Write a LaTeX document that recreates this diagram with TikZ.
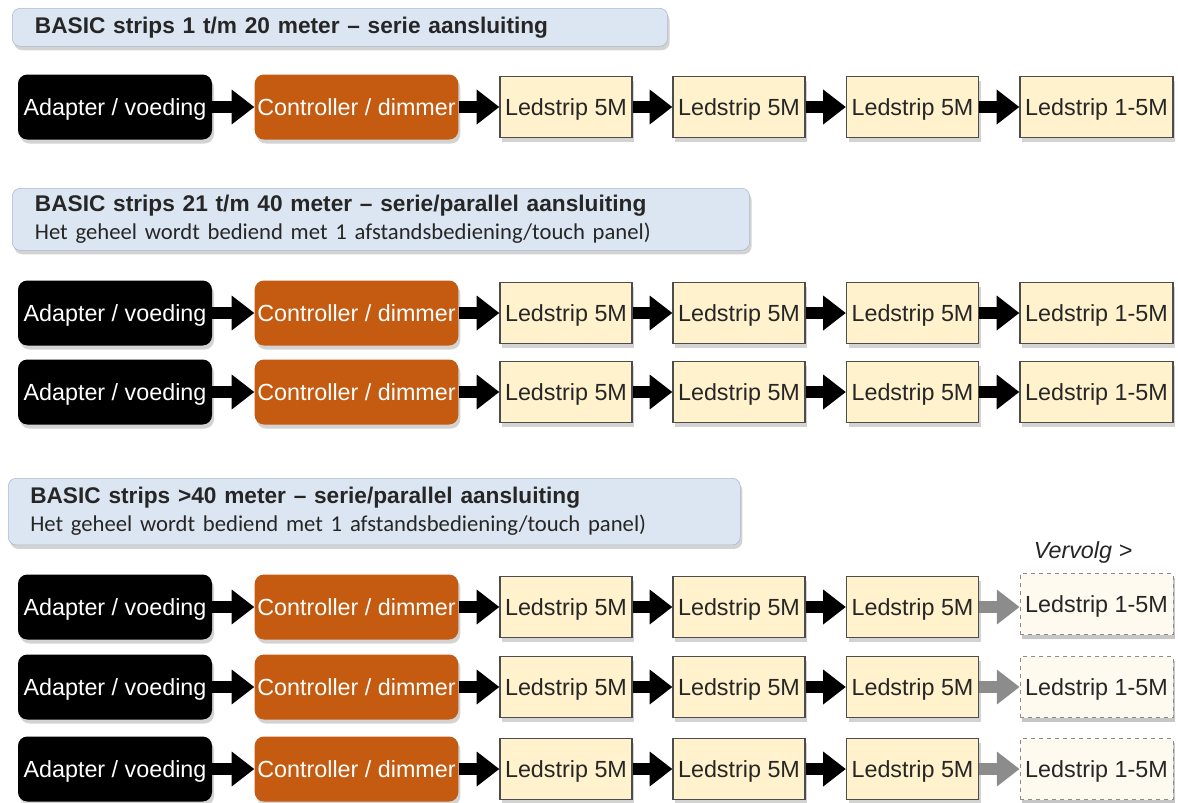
\documentclass[tikz,border=0pt]{standalone}
\usepackage{fontspec}
\setmainfont{Liberation Sans}
\newfontfamily\notefont[WordSpace=0.75]{Carlito}
\usetikzlibrary{arrows.meta,shadows}
\definecolor{ctrlorange}{HTML}{C55A11}
\definecolor{stripfill}{HTML}{FFF2CC}
\definecolor{fadefill}{HTML}{FFFAF0}
\definecolor{titlefill}{HTML}{DCE6F2}
\definecolor{titleline}{HTML}{A9B8CB}
\definecolor{inktext}{HTML}{262626}

\begin{document}
\begin{tikzpicture}[x=0.75pt,y=-0.75pt,
  every node/.style={font=\fontsize{17.5}{21}\selectfont},
  shade/.style={drop shadow={shadow xshift=1.5pt,shadow yshift=-3pt,opacity=0.35}},
  titlebox/.style={draw=titleline, fill=titlefill, rounded corners=6pt, anchor=north west,
    align=left, inner xsep=17pt, inner ysep=0pt, text=inktext, shade},
  boxtext/.style={inner xsep=2pt, text height=15.6pt, text depth=3.4pt},
  adapter/.style={fill=black, text=white, rounded corners=7pt, boxtext,
    minimum width=145.5pt, minimum height=48.75pt, shade},
  ctrl/.style={fill=ctrlorange, text=white, rounded corners=7pt, boxtext,
    minimum width=152.25pt, minimum height=48.75pt, shade},
  strip/.style={draw=black!70, line width=0.9pt, fill=stripfill, text=inktext, boxtext,
    minimum width=99pt, minimum height=45.75pt, shade},
  laststrip/.style={strip, minimum width=114.75pt},
  fadestrip/.style={laststrip, draw=black!45, dashed, line width=0.6pt, fill=fadefill, text=inktext,
    drop shadow={shadow xshift=1.5pt,shadow yshift=-3pt,opacity=0.15}},
  conn/.style={line width=9pt, -{Triangle[length=17pt,width=25pt]}},
  fadeconn/.style={conn, draw=black!45, color=black!45}
]
\useasboundingbox (0,0) rectangle (1178,803);
\def\xad{115}
\def\xco{356.5}
\def\xla{566}
\def\xlb{739}
\def\xlc{912.5}
\def\xld{1096.5}

% serie
\node[titlebox, text width=457.5pt, minimum height=28.5pt] (title1) at (12,8)
  {\fontsize{17}{21}\selectfont\bfseries BASIC strips 1 t/m 20 meter -- serie aansluiting};

\node[adapter] (ad1) at (\xad,107) {Adapter / voeding};
\node[ctrl] (co1) at (\xco,107) {Controller / dimmer};
\node[strip] (la1) at (\xla,107) {Ledstrip 5M};
\node[strip] (lb1) at (\xlb,107) {Ledstrip 5M};
\node[strip] (lc1) at (\xlc,107) {Ledstrip 5M};
\node[laststrip] (ld1) at (\xld,107) {Ledstrip 1-5M};
\draw[conn] (ad1) -- (co1);
\draw[conn] (co1) -- (la1);
\draw[conn] (la1) -- (lb1);
\draw[conn] (lb1) -- (lc1);
\draw[conn] (lc1) -- (ld1);

% serie/parallel, 2 rows
\node[titlebox, text width=519pt, minimum height=46.5pt] (title2) at (12,188)
  {\fontsize{17}{21}\selectfont\bfseries BASIC strips 21 t/m 40 meter -- serie/parallel aansluiting\\
   \notefont\mdseries\fontsize{17}{21}\selectfont Het geheel wordt bediend met 1 afstandsbediening/touch panel)};

\node[adapter] (ad2) at (\xad,313) {Adapter / voeding};
\node[ctrl] (co2) at (\xco,313) {Controller / dimmer};
\node[strip] (la2) at (\xla,313) {Ledstrip 5M};
\node[strip] (lb2) at (\xlb,313) {Ledstrip 5M};
\node[strip] (lc2) at (\xlc,313) {Ledstrip 5M};
\node[laststrip] (ld2) at (\xld,313) {Ledstrip 1-5M};
\draw[conn] (ad2) -- (co2);
\draw[conn] (co2) -- (la2);
\draw[conn] (la2) -- (lb2);
\draw[conn] (lb2) -- (lc2);
\draw[conn] (lc2) -- (ld2);

\node[adapter] (ad3) at (\xad,392) {Adapter / voeding};
\node[ctrl] (co3) at (\xco,392) {Controller / dimmer};
\node[strip] (la3) at (\xla,392) {Ledstrip 5M};
\node[strip] (lb3) at (\xlb,392) {Ledstrip 5M};
\node[strip] (lc3) at (\xlc,392) {Ledstrip 5M};
\node[laststrip] (ld3) at (\xld,392) {Ledstrip 1-5M};
\draw[conn] (ad3) -- (co3);
\draw[conn] (co3) -- (la3);
\draw[conn] (la3) -- (lb3);
\draw[conn] (lb3) -- (lc3);
\draw[conn] (lc3) -- (ld3);

% >40 meter, 3 rows
\node[titlebox, text width=516pt, inner xsep=16.5pt, minimum height=50pt] (title3) at (8,478)
  {\fontsize{17}{21}\selectfont\bfseries BASIC strips >40 meter -- serie/parallel aansluiting\\
   \notefont\mdseries\fontsize{17}{21}\selectfont Het geheel wordt bediend met 1 afstandsbediening/touch panel)};
\node[text=inktext, font=\fontsize{17.5}{21}\selectfont\itshape] (vervolg) at (1083,552) {Vervolg >};

\node[adapter] (ad4) at (\xad,607) {Adapter / voeding};
\node[ctrl] (co4) at (\xco,607) {Controller / dimmer};
\node[strip] (la4) at (\xla,607) {Ledstrip 5M};
\node[strip] (lb4) at (\xlb,607) {Ledstrip 5M};
\node[strip] (lc4) at (\xlc,607) {Ledstrip 5M};
\node[fadestrip] (ld4) at (\xld,604) {Ledstrip 1-5M};
\draw[conn] (ad4) -- (co4);
\draw[conn] (co4) -- (la4);
\draw[conn] (la4) -- (lb4);
\draw[conn] (lb4) -- (lc4);
\draw[fadeconn] (lc4) -- (lc4 -| ld4.west);

\node[adapter] (ad5) at (\xad,687) {Adapter / voeding};
\node[ctrl] (co5) at (\xco,687) {Controller / dimmer};
\node[strip] (la5) at (\xla,687) {Ledstrip 5M};
\node[strip] (lb5) at (\xlb,687) {Ledstrip 5M};
\node[strip] (lc5) at (\xlc,687) {Ledstrip 5M};
\node[fadestrip] (ld5) at (\xld,687) {Ledstrip 1-5M};
\draw[conn] (ad5) -- (co5);
\draw[conn] (co5) -- (la5);
\draw[conn] (la5) -- (lb5);
\draw[conn] (lb5) -- (lc5);
\draw[fadeconn] (lc5) -- (ld5);

\node[adapter] (ad6) at (\xad,769) {Adapter / voeding};
\node[ctrl] (co6) at (\xco,769) {Controller / dimmer};
\node[strip] (la6) at (\xla,769) {Ledstrip 5M};
\node[strip] (lb6) at (\xlb,769) {Ledstrip 5M};
\node[strip] (lc6) at (\xlc,769) {Ledstrip 5M};
\node[fadestrip] (ld6) at (\xld,769) {Ledstrip 1-5M};
\draw[conn] (ad6) -- (co6);
\draw[conn] (co6) -- (la6);
\draw[conn] (la6) -- (lb6);
\draw[conn] (lb6) -- (lc6);
\draw[fadeconn] (lc6) -- (ld6);

\end{tikzpicture}
\end{document}
